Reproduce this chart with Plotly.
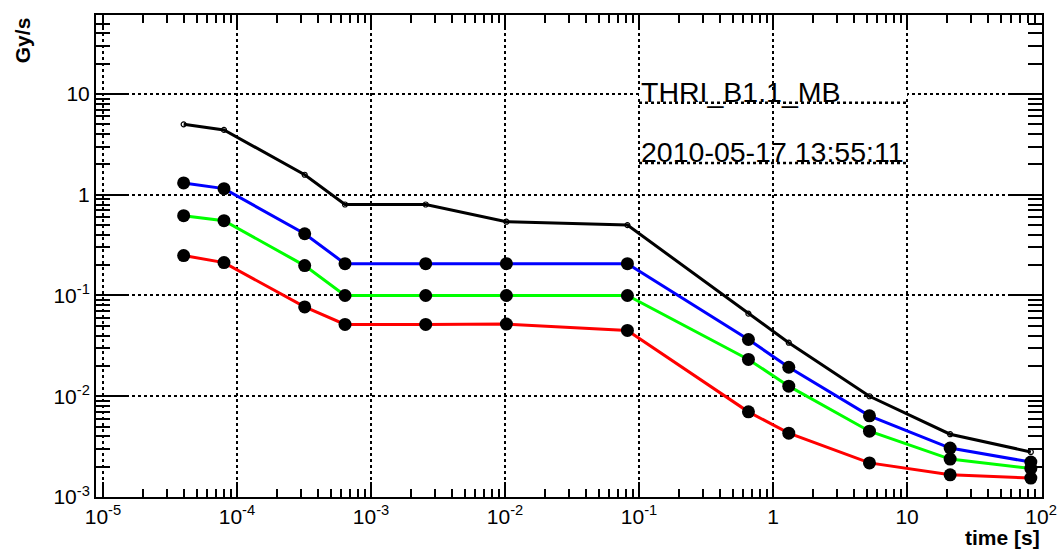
import plotly.graph_objects as go

# integration times [s]
times = [4e-5, 8e-5, 3.2e-4, 6.4e-4, 2.56e-3, 1.024e-2, 8.192e-2,
         0.65536, 1.31072, 5.24288, 20.97152, 83.88608]
black_vals = [5.0, 4.4, 1.58, 0.80, 0.80, 0.54, 0.50, 0.066, 0.034, 0.0100, 0.0042, 0.0028]
blue_vals = [1.31, 1.15, 0.41, 0.207, 0.207, 0.207, 0.207, 0.0366, 0.0194, 0.0064, 0.00306, 0.00222]
green_vals = [0.62, 0.553, 0.198, 0.100, 0.100, 0.100, 0.100, 0.0232, 0.0126, 0.0045, 0.00238, 0.00192]
red_vals = [0.249, 0.212, 0.077, 0.0516, 0.0516, 0.052, 0.045, 0.0070, 0.0043, 0.00218, 0.00166, 0.00154]

x_tickvals = [1e-5, 1e-4, 1e-3, 1e-2, 1e-1, 1, 10, 100]
x_ticktext = ["10<sup>-5</sup>", "10<sup>-4</sup>", "10<sup>-3</sup>", "10<sup>-2</sup>",
              "10<sup>-1</sup>", "1", "10", "10<sup>2</sup>"]
y_tickvals = [1e-3, 1e-2, 1e-1, 1, 10]
y_ticktext = ["10<sup>-3</sup>", "10<sup>-2</sup>", "10<sup>-1</sup>", "1", "10"]

label_text = "THRI_B1.1_MB"
date_text = "2010-05-17 13:55:11"

fig = go.Figure()

fig.add_trace(go.Scatter(
    x=times, y=black_vals, mode="lines+markers",
    line=dict(color="black", width=3),
    marker=dict(symbol="circle-open", size=5, color="black", line=dict(width=1.2)),
    showlegend=False))

for vals, col in [(blue_vals, "#0000ff"), (green_vals, "#00ff00"), (red_vals, "#ff0000")]:
    fig.add_trace(go.Scatter(
        x=times, y=vals, mode="lines+markers",
        line=dict(color=col, width=3),
        marker=dict(symbol="circle", size=13, color="black"),
        showlegend=False))

font = "Liberation Sans, Arial, Helvetica, sans-serif"

axis_common = dict(
    type="log", automargin=False,
    showline=True, linecolor="black", linewidth=2, mirror="allticks",
    ticks="inside", tickcolor="black", tickwidth=1.8,
    showgrid=True, gridcolor="black", gridwidth=2, griddash="dot",
    zeroline=False,
    tickfont=dict(family=font, size=21, color="black"),
)

fig.update_xaxes(**axis_common, range=[-5.052, 2.007],
                 tickvals=x_tickvals, ticktext=x_ticktext, ticklen=15,
                 minor=dict(ticks="inside", ticklen=8, tickcolor="black", tickwidth=1.8,
                            dtick="D1", showgrid=False))
fig.update_yaxes(**axis_common, range=[-3, 1.784],
                 tickvals=y_tickvals, ticktext=y_ticktext, ticklen=31,
                 minor=dict(ticks="inside", ticklen=14, tickcolor="black", tickwidth=1.8,
                            dtick="D1", showgrid=False))

# white cover for the y=10 grid line behind the text box
fig.add_shape(type="rect", xref="x", yref="y", x0=0.1, x1=10, y0=9.2, y1=10.8,
              fillcolor="white", line=dict(width=0), layer="between")
# dotted underlines of the text box
for yv in [8.2, 2.07]:
    fig.add_shape(type="line", xref="x", yref="y", x0=0.1, x1=10, y0=yv, y1=yv,
                  line=dict(color="black", width=2.5, dash="dot"), layer="above")

fig.add_annotation(x=-1, y=1.0 + (94 - 92) / 100.75, xref="x", yref="y",
                   text=label_text, showarrow=False, xanchor="left", yanchor="middle",
                   font=dict(family=font, size=28.5, color="black"))
fig.add_annotation(x=-1, y=1.0 - (152 - 94) / 100.75, xref="x", yref="y",
                   text=date_text, showarrow=False, xanchor="left", yanchor="middle",
                   font=dict(family=font, size=28.5, color="black"))

fig.add_annotation(x=1.0, y=-0.055, xref="paper", yref="paper", xanchor="right", yanchor="top",
                   text="<b>time [s]</b>", showarrow=False,
                   font=dict(family=font, size=21, color="black"))
fig.add_annotation(x=-0.078, y=1.0, xref="paper", yref="paper", xanchor="center", yanchor="top",
                   text="<b>Gy/s</b>", textangle=-90, showarrow=False,
                   font=dict(family=font, size=21, color="black"))

fig.update_layout(
    width=1059, height=555,
    margin=dict(l=96, r=17, t=15, b=58),
    paper_bgcolor="white", plot_bgcolor="white",
)

fig.write_html("out.html")
